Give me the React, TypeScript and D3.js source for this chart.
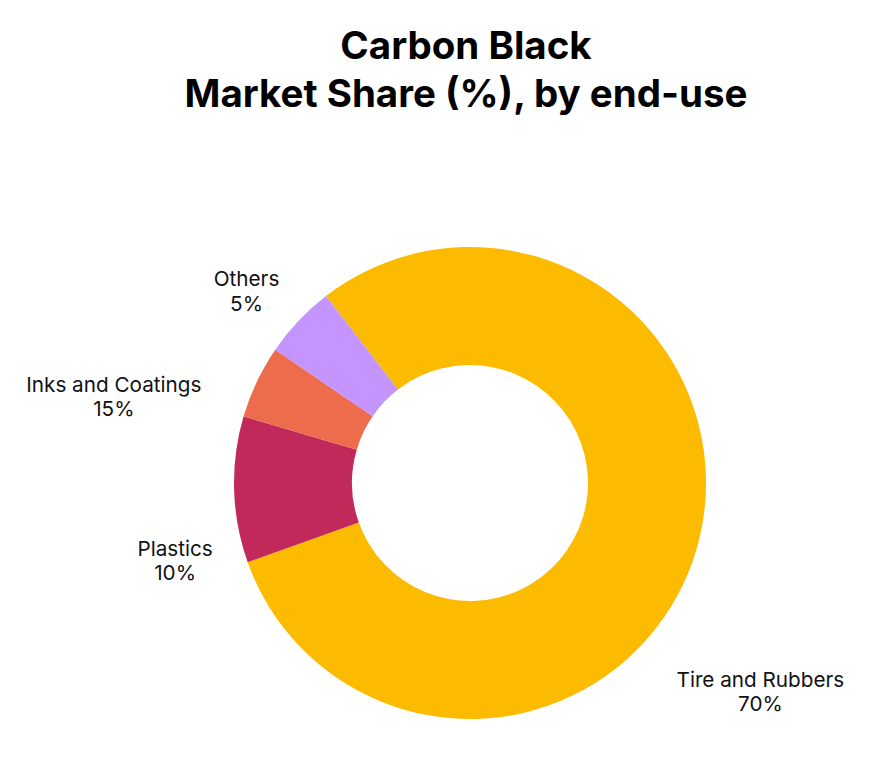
import React from "react";
import * as d3 from "d3";

const categories = ["Tire and Rubbers", "Plastics", "Inks and Coatings", "Others"];
const sliceValues = [80, 10, 5, 5];
const labelTexts = ["70%", "10%", "15%", "5%"];
const colors = ["#FDBB00", "#C0295A", "#EC6C4C", "#C494FF"];
const titleLines = ["Carbon Black", "Market Share (%), by end-use"];

// layout (label offsets from the slice's outer-edge midpoint to first baseline)
const labelOffsets = [
  [64, 137],
  [-59, 66],
  [-143, 10],
  [-52, -35],
];

const W = 893;
const H = 769;
const CX = 470;
const CY = 483;
const R = 236;
const RI = 118;
const START = (-37.6 * Math.PI) / 180;

export default function App() {
  const pie = d3
    .pie<number>()
    .sort(null)
    .startAngle(START)
    .endAngle(START + 2 * Math.PI)
    .value((d) => d);
  const arcs = pie(sliceValues);
  const arc = d3.arc<d3.PieArcDatum<number>>().innerRadius(RI).outerRadius(R);
  const edge = d3.arc<d3.PieArcDatum<number>>().innerRadius(R).outerRadius(R);
  const font = "Inter, 'Noto Sans', sans-serif";

  return (
    <svg
      width={W}
      height={H}
      style={{ position: "absolute", left: 0, top: 0, background: "#fff" }}
    >
      <g fontFamily={font} fontWeight={700} fontSize={38.5} textAnchor="middle" fill="#000">
        {titleLines.map((t, i) => (
          <text key={i} x={466} y={59 + i * 48}>
            {t}
          </text>
        ))}
      </g>
      <g transform={`translate(${CX},${CY})`}>
        {arcs.map((a, i) => (
          <path key={i} d={arc(a) || ""} fill={colors[i]} />
        ))}
        {arcs.map((a, i) => {
          const [ex, ey] = edge.centroid(a);
          const x = ex + labelOffsets[i][0];
          const y = ey + labelOffsets[i][1];
          return (
            <text
              key={"l" + i}
              x={x}
              y={y}
              textAnchor="middle"
              fontFamily={font}
              fontSize={20.7}
              fill="#111"
            >
              <tspan x={x} y={y}>
                {categories[i]}
              </tspan>
              <tspan x={x} y={y + 24.7}>
                {labelTexts[i]}
              </tspan>
            </text>
          );
        })}
      </g>
    </svg>
  );
}
